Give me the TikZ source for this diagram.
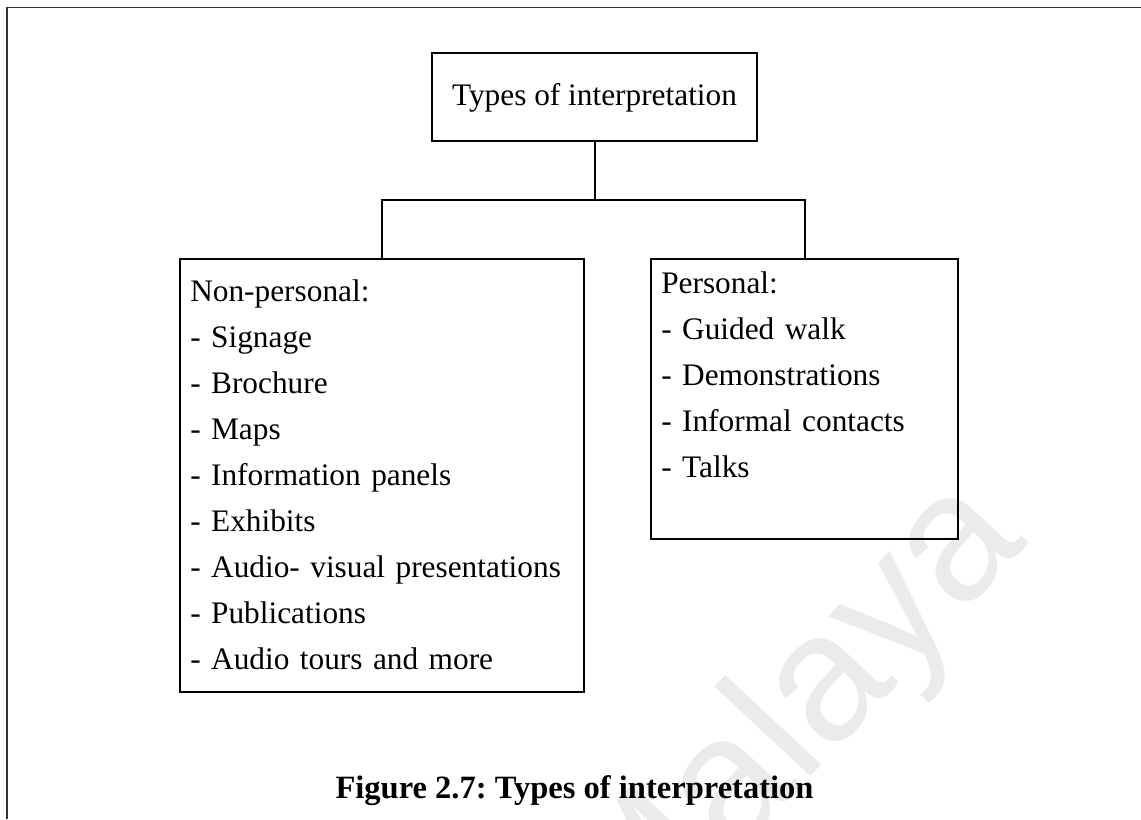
\documentclass[tikz,border=0pt]{standalone}
\usepackage{fontspec}
\setmainfont{Liberation Serif}
\setsansfont{Liberation Sans}
\frenchspacing
\tikzset{
  box/.style={draw=black, line width=1.5pt, rectangle, inner sep=0pt, outer sep=0pt, anchor=north west},
  listtext/.style={anchor=base west, inner sep=0pt, text width=300pt, align=left,
    font=\frenchspacing\fontsize{23.5}{34.5}\selectfont},
  link/.style={draw=black, line width=1.5pt},
  frame/.style={draw=black!80, line width=1.2pt},
  watermark/.style={text=black!8, font=\sffamily\fontsize{136}{136}\selectfont, inner sep=0pt},
}
\begin{document}
\begin{tikzpicture}[x=0.75pt, y=-0.75pt]
\useasboundingbox (0,0) rectangle (1141,819);
% watermark
\node[watermark, rotate=47] (wm) at (796,724) {Malaya};
% outer frame (top and left edges only visible)
\coordinate (fa) at (7,819);
\coordinate (fb) at (7,7.5);
\coordinate (fc) at (1141,7.5);
\draw[frame] (fa) -- (fb) -- (fc);
% top box
\node[box, minimum width=243.75pt, minimum height=66pt] (top) at (432,53) {};
\node[inner sep=0pt, font=\fontsize{23.5}{28}\selectfont, anchor=base] (toptext) at (top.center |- 0,105) {Types of interpretation};
% left box
\node[box, minimum width=303pt, minimum height=324.75pt] (np) at (180,259) {};
\node[listtext] (nptext) at (190,301) {Non-personal:\\
- Signage\\
- Brochure\\
- Maps\\
- Information panels\\
- Exhibits\\
- Audio- visual presentations\\
- Publications\\
- Audio tours and more};
% right box
\node[box, minimum width=230.25pt, minimum height=210pt] (pe) at (651,259) {};
\node[listtext] (petext) at (661,293) {Personal:\\
- Guided walk\\
- Demonstrations\\
- Informal contacts\\
- Talks};
% connectors
\coordinate (j) at (top.south |- 0,200);
\draw[link] (top.south) -- (j);
\draw[link] (np.north) |- (j) -| (pe.north);
% caption
\node[inner sep=0pt, anchor=base, font=\frenchspacing\bfseries\fontsize{24.4}{28}\selectfont] (cap) at (574.5,798) {Figure 2.7: Types of interpretation};
\end{tikzpicture}
\end{document}
